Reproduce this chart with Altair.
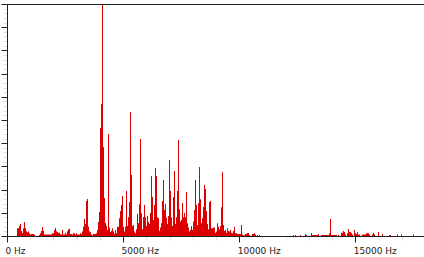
import altair as alt
import pandas as pd

# FFT bin width (44.1 kHz / 1024-point FFT)
BIN_HZ = 44100 / 1024
VIEW_BINS = 417  # bins visible across the plot

# Dense part of the spectrum, starting at bin 10 (relative level, 0-100)
DENSE_START_BIN = 10
DENSE_AMP = [
    3.3, 3.3, 4.3, 5.2, 2.2, 1.3, 3.3, 6.0, 3.3, 2.0,
    1.6, 1.9, 1.2, 0.6, 0.9, 0.9, 0.9, 0.6, 0, 0,
    0, 0, 0.4, 1.2, 2.2, 3.9, 2.2, 0.6, 0.6, 0.6,
    0.6, 0.6, 0.6, 0.6, 0.6, 1.2, 1.2, 2.6, 3.4, 2.0,
    1.7, 1.4, 1.4, 0.6, 0.6, 2.6, 0.6, 0.6, 1.4, 0.6,
    2.0, 2.9, 3.1, 0.9, 0.9, 0.6, 1.2, 1.2, 0.6, 1.2,
    0.6, 0.6, 0.6, 1.2, 0.9, 1.9, 4.0, 7.3, 5.2, 15.1,
    15.9, 4.0, 2.0, 1.6, 0.7, 0.3, 0.9, 0.9, 0.9, 1.2,
    2.6, 6.0, 10.3, 46.5, 56.9, 100, 38.4, 16.4, 5.6, 4.3,
    2.6, 44.0, 3.7, 1.7, 2.3, 3.3, 1.9, 0.9, 2.6, 1.2,
    4.0, 4.0, 7.6, 10.8, 13.4, 17.2, 4.0, 1.9, 4.0, 19.4,
    4.3, 8.1, 14.7, 53.4, 26.3, 4.3, 4.7, 1.9, 1.2, 2.9,
    9.5, 5.5, 13.7, 41.8, 9.8, 2.9, 8.2, 13.4, 8.1, 4.3,
    8.6, 6.0, 5.2, 9.9, 25.9, 16.8, 6.9, 13.4, 29.3, 25.9,
    8.1, 7.6, 2.3, 3.7, 5.5, 15.1, 24.1, 11.2, 13.8, 7.9,
    5.2, 8.6, 32.8, 19.4, 8.1, 4.3, 16.8, 28.0, 5.2, 8.1,
    19.4, 41.4, 11.5, 6.2, 6.9, 14.2, 8.1, 9.9, 8.1, 19.0,
    5.5, 3.7, 1.9, 2.6, 4.3, 2.6, 6.2, 11.2, 24.1, 13.4,
    4.7, 14.1, 29.7, 15.8, 5.5, 7.6, 12.5, 22.0, 20.3, 10.8,
    5.2, 2.9, 14.7, 15.1, 3.3, 3.3, 3.6, 3.7, 1.4, 1.9,
    5.5, 4.0, 2.9, 4.3, 12.4, 27.5, 4.7, 2.2, 2.6, 1.4,
    3.3, 2.2, 1.9, 2.6, 1.4, 1.2, 2.2, 4.0, 1.2, 1.2,
    0.9, 0.9, 0.9, 0.9, 4.7, 0.7, 0.3, 0.3, 0.9, 0.9,
    1.3, 1.3, 0.4, 0, 0, 0.9, 0.9, 1.2, 0.6, 0,
    0.4, 0, 0.4,
]

# Sparse high-frequency components (bin index, level)
SPARSE_BIN = [
    286, 288, 293, 298, 299, 304, 305, 306, 307, 308, 309, 310, 311,
    314, 315, 316, 317, 318, 319, 320, 321, 322, 323, 324, 325, 326, 327,
    328, 329, 331, 334, 335, 336, 337, 338, 340, 341, 342, 343, 344, 345,
    347, 348, 349, 350, 351, 352, 355, 356, 357, 358, 359, 360, 361, 362,
    365, 366, 367, 371, 375, 382, 383, 390, 394, 406,
]
SPARSE_AMP = [
    0.4, 0.4, 0.4, 0.9, 0.4, 1.3, 0.4, 0.4, 0.4, 0.4, 0.4, 0.4, 0.9,
    0.4, 0.4, 0.4, 0.4, 0.4, 0.4, 0.4, 0.4, 1.2, 7.3, 0.4, 0.4, 0.4, 0.4,
    0.4, 0.4, 0.4, 1.4, 1.4, 2.2, 1.7, 0.7, 1.2, 3.0, 1.7, 1.7, 1.2, 0.7,
    2.6, 1.2, 0.9, 1.7, 0.7, 0.7, 0.7, 0.7, 0.7, 0.7, 1.2, 1.2, 1.2, 0.7,
    0.7, 1.4, 0.7, 1.7, 0.9, 0.4, 0.4, 0.6, 0.6, 0.6,
]

X_TICKS = list(range(0, 18000, 1000))   # minor every 1000 Hz, labelled every 5000 Hz
Y_TICKS = list(range(0, 101, 2))        # minor every 2, major every 10

bins = list(range(DENSE_START_BIN, DENSE_START_BIN + len(DENSE_AMP))) + SPARSE_BIN
amps = DENSE_AMP + SPARSE_AMP
df = pd.DataFrame({
    "f": [b * BIN_HZ for b in bins],
    "f2": [(b + 1) * BIN_HZ for b in bins],
    "amp": amps,
})

DARK = "#222222"
LIGHT = "#dedede"

x_scale = alt.Scale(domain=[0, VIEW_BINS * BIN_HZ], nice=False, zero=False)
y_scale = alt.Scale(domain=[0, 100], nice=False)

x_axis = alt.Axis(
    values=X_TICKS,
    title=None,
    grid=False,
    domainColor=DARK,
    domainWidth=1,
    tickWidth=1,
    tickSize={"condition": {"test": "datum.value % 5000 === 0", "value": 6}, "value": 4},
    tickColor={"condition": {"test": "datum.value % 5000 === 0", "value": DARK}, "value": LIGHT},
    labelExpr="datum.value % 5000 === 0 ? datum.value + ' Hz' : ''",
    labelAlign="left",
    labelOffset=-2,
    labelPadding=4,
    labelFont="DejaVu Sans",
    labelFontSize=9,
    labelColor=DARK,
    labelOverlap=False,
    labelFlush=False,
    labelBound=False,
)

y_axis = alt.Axis(
    values=Y_TICKS,
    title=None,
    grid=False,
    labels=False,
    domainColor=DARK,
    domainWidth=1,
    tickWidth=1,
    tickSize={"condition": {"test": "datum.value % 10 === 0", "value": 6}, "value": 4},
    tickColor={"condition": {"test": "datum.value % 10 === 0", "value": DARK}, "value": LIGHT},
)

bars = alt.Chart(df).mark_rect(color="#dd0000", strokeWidth=0).encode(
    x=alt.X("f:Q", scale=x_scale, axis=x_axis),
    x2="f2:Q",
    y=alt.Y("amp:Q", scale=y_scale, axis=y_axis),
    y2=alt.datum(0),
)

top_line = alt.Chart(pd.DataFrame({"level": [100]})).mark_rule(
    color=DARK, strokeWidth=1, yOffset=0.5
).encode(y=alt.Y("level:Q", scale=y_scale, axis=y_axis))

chart = alt.layer(bars, top_line).properties(
    width=417,
    height=232,
    autosize=alt.AutoSizeParams(type="none"),
    padding={"left": 7, "top": 4, "right": 0, "bottom": 21},
).configure_view(stroke=None).configure(background="white")

chart.save("out.html", embed_options={"renderer": "svg", "actions": False})
